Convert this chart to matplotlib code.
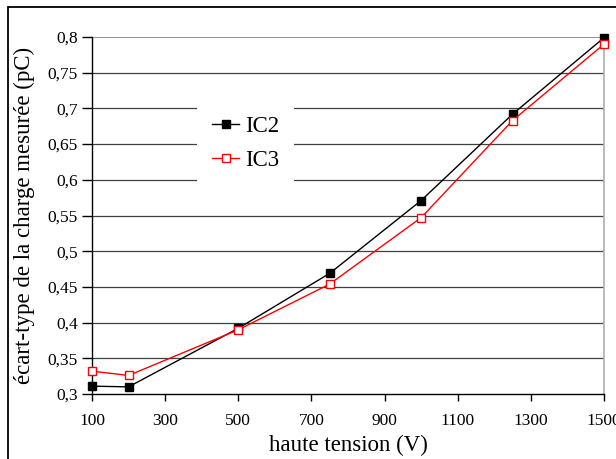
import numpy as np
import matplotlib as mpl
mpl.use('Agg')
import matplotlib.pyplot as plt
from matplotlib.patches import Rectangle

### data
tension = [100, 200, 500, 750, 1000, 1250, 1500]
ic2 = [0.311, 0.310, 0.392, 0.469, 0.571, 0.692, 0.799]
ic3 = [0.332, 0.326, 0.390, 0.454, 0.547, 0.683, 0.790]

xticks = [100, 300, 500, 700, 900, 1100, 1300, 1500]
yticks = [0.3, 0.35, 0.4, 0.45, 0.5, 0.55, 0.6, 0.65, 0.7, 0.75, 0.8]
ylabels = ['0,3', '0,35', '0,4', '0,45', '0,5', '0,55', '0,6', '0,65', '0,7', '0,75', '0,8']

plt.rc('font', family='Liberation Serif', size=12.5)

W, H = 616, 459
fig = plt.figure(figsize=(W/100, H/100), dpi=100)
ax = fig.add_axes([92/W, (H-394)/H, 512/W, 357/H])

### horizontal grid
for y in yticks[1:-1]:
    ax.axhline(y, color='#404040', lw=0.9, zorder=1)
ax.axhline(0.8, color='#808080', lw=1.2, zorder=1)

ax.plot(tension, ic2, color='black', lw=1, marker='s', markersize=5.5,
        markerfacecolor='black', markeredgecolor='black', label='IC2', zorder=3, clip_on=False)
ax.plot(tension, ic3, color='red', lw=1, marker='s', markersize=5.5,
        markerfacecolor='white', markeredgecolor='red', label='IC3', zorder=3, clip_on=False)

ax.set_xlim(100, 1500)
ax.set_ylim(0.3, 0.8)
ax.set_xticks(xticks)
ax.set_yticks(yticks)
ax.set_yticklabels(ylabels)
ax.tick_params(axis='y', direction='out', length=7, width=1, pad=3)
ax.tick_params(axis='x', direction='out', length=5, width=1, pad=9)

for s in ['left', 'bottom']:
    ax.spines[s].set_color('black')
    ax.spines[s].set_linewidth(1)
ax.spines['right'].set_color('#b0b0b0')
ax.spines['right'].set_linewidth(1.2)
ax.spines['top'].set_visible(False)

ax.set_xlabel('haute tension (V)', fontsize=16.5, labelpad=4)
ax.set_ylabel('écart-type de la charge mesurée (pC)', fontsize=16.5, labelpad=9)

leg = ax.legend(loc='upper left', bbox_to_anchor=(105/512, (394-101)/357),
                frameon=True, fancybox=False, framealpha=1, edgecolor='white',
                fontsize=16.5, handlelength=1.2, handletextpad=0.25,
                labelspacing=0.55, borderpad=0.65, borderaxespad=0)
leg.get_frame().set_linewidth(0)

### outer chart border
fig.patches.append(Rectangle((8/W, -0.1), 2, (H-7)/H + 0.1, transform=fig.transFigure,
                             fill=False, edgecolor='black', lw=1.3))

fig.savefig('out.png', dpi=100)
plt.close()
